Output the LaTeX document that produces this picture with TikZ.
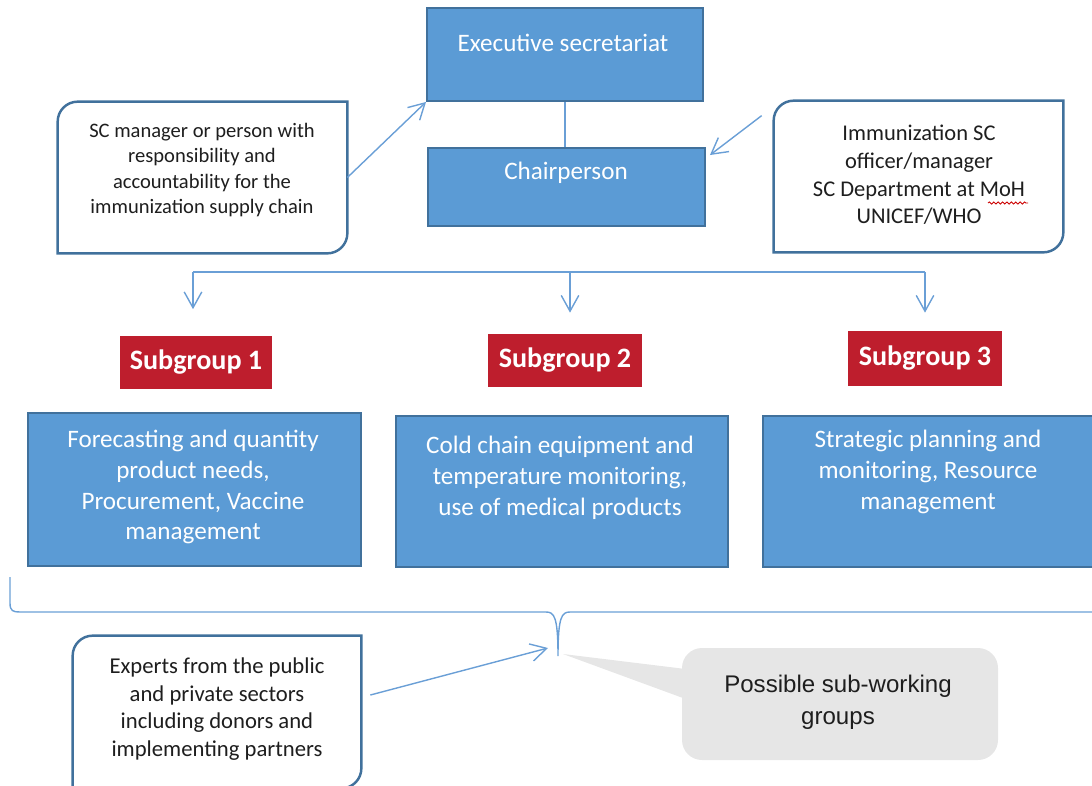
\documentclass[tikz,border=0pt]{standalone}
\usepackage{fontspec}
\setmainfont{Carlito}
\newfontfamily\arialfont{Liberation Sans}
\usetikzlibrary{positioning}
\usetikzlibrary{calc}
\usetikzlibrary{arrows.meta}
\usetikzlibrary{decorations.pathmorphing}
\definecolor{boxblue}{HTML}{5B9BD5}
\definecolor{boxedge}{HTML}{41719C}
\definecolor{subred}{HTML}{BE1E2D}
\definecolor{linkblue}{HTML}{6A9FD6}
\definecolor{notegray}{HTML}{E6E6E6}
\definecolor{notetext}{HTML}{1E1E1E}
\newcommand{\pxl}{0.02cm}
\tikzset{boxsize/.style 2 args={minimum width=#1*\pxl,minimum height=#2*\pxl}}
\tikzstyle{bluebox}=[draw=boxedge,fill=boxblue,line width=1.1pt,inner sep=0]
\tikzstyle{redbox}=[fill=subred,inner sep=0,text=white,font=\fontsize{16}{19}\selectfont\bfseries]
\tikzstyle{bluetext}=[text=white,align=center,inner sep=0,font=\fontsize{14.3}{17.6}\selectfont]
\tikzstyle{notebox}=[inner sep=0]
\tikzstyle{notetxt}=[text=notetext,align=center,inner sep=0,font=\fontsize{11.7}{14.3}\selectfont]
\tikzstyle{link}=[draw=linkblue,line width=0.8pt]
\tikzstyle{linkarrow}=[link,-{Straight Barb[length=9pt,width=10pt]}]

\begin{document}
\begin{tikzpicture}[x=\pxl,y=\pxl]
\newcommand{\cornr}{20}
% callout frame, round top left and bottom right
\newcommand{\noteframe}[1]{%
  \draw[draw=boxedge,fill=white,line width=1.4pt] (#1.south west)
    -- ($(#1.north west)+(0,-\cornr)$) arc[start angle=180,end angle=90,radius=\cornr*\pxl]
    -- (#1.north east)
    -- ($(#1.south east)+(0,\cornr)$) arc[start angle=0,end angle=-90,radius=\cornr*\pxl]
    -- cycle;}

\useasboundingbox (0,0) rectangle (1092,-785);

% top of the chart
\node (exec) [bluebox,boxsize={276}{93}] at (565,-54.5) {};
\node (chair) [bluebox,boxsize={277}{78}] at (566.5,-187) {};
\node (exectxt) [bluetext] at (563,-43) {Executive secretariat};
\node (chairtxt) [bluetext] at (566,-173) {Chairperson};
\draw[link] (exec.south) -- (exec.south |- chair.north);

% side notes
\node (lnote) [notebox,boxsize={289}{151}] at (202.5,-177.5) {};
\node (rnote) [notebox,boxsize={289}{151}] at (918.5,-176.5) {};
\noteframe{lnote}
\noteframe{rnote}
\node (lnotetxt) [notetxt] at (202,-170) {SC manager or person with\\responsibility and\\accountability for the\\immunization supply chain};
\node (rnotetxt) [notetxt,font=\fontsize{12.8}{15.8}\selectfont] at (919,-175) {Immunization SC\\officer/manager\\SC Department at MoH\\UNICEF/WHO};
\draw[red!80!black,line width=0.5pt,decorate,decoration={snake,amplitude=0.6pt,segment length=2.5pt}] (988,-203) -- (1028,-203);

\draw[linkarrow] (lnote.east) -- (exec.south west);
\draw[linkarrow] ($(rnote.north west)+(-12,-15)$) -- ($(chair.north east)+(4,-8)$);

% branches to the subgroups
\coordinate (barl) at (193,-272);
\coordinate (barm) at (570,-272);
\coordinate (barr) at (925,-272);
\node (sg1) [redbox,boxsize={152}{53}] at (196,-362) {Subgroup 1};
\node (sg2) [redbox,boxsize={154}{53}] at (565,-360.5) {Subgroup 2};
\node (sg3) [redbox,boxsize={154}{55}] at (925,-358.5) {Subgroup 3};
\draw[link] (barl) -- (barr);
\draw[linkarrow] (barl) -- ($(barl |- sg1.north)+(0,26)$);
\draw[linkarrow] (barm) -- ($(barm |- sg2.north)+(0,21)$);
\draw[linkarrow] (barr) -- ($(barr |- sg3.north)+(0,18)$);

\node (box1) [bluebox,boxsize={333}{153}] at (194.5,-489.5) {};
\node (box2) [bluebox,boxsize={332}{151}] at (562,-491.5) {};
\node (box3) [bluebox,boxsize={334}{151}] at (930,-491.5) {};
\node (box1txt) [bluetext] at (193,-487) {Forecasting and quantity\\product needs,\\Procurement, Vaccine\\management};
\node (box2txt) [bluetext] at (560,-478) {Cold chain equipment and\\temperature monitoring,\\use of medical products};
\node (box3txt) [bluetext] at (928,-472) {Strategic planning and\\monitoring, Resource\\management};

% brace under the subgroups
\coordinate (tip) at (558,-656);
\draw[link] (10,-577) -- (10,-603) .. controls (10,-611) and (13,-612) .. (20,-612)
  -- (546,-612) .. controls (554,-612) and (558,-616) .. (tip)
  .. controls (558,-616) and (562,-612) .. (570,-612) -- (1095,-612);

% bottom notes
\node (xnote) [notebox,boxsize={288}{152}] at (217,-712) {};
\noteframe{xnote}
\node (xnotetxt) [notetxt,font=\fontsize{12.9}{15.7}\selectfont] at (217,-709) {Experts from the public\\and private sectors\\including donors and\\implementing partners};
\coordinate (xend) at (548,-648);
\draw[linkarrow] ($(xnote.east)+(9,17)$) -- (xend);

\node (gnote) [fill=notegray,rounded corners=0.4cm,boxsize={316}{112}] at (840,-704) {};
\fill[notegray] ($(tip)+(5,2)$) -- ($(gnote.west)+(4,35)$) -- ($(gnote.west)+(4,5)$) -- cycle;
\node (gnotetxt) [text=notetext,align=center,inner sep=0,font=\arialfont\fontsize{13.7}{18}\selectfont] at (838,-702) {Possible sub-working\\groups};
\end{tikzpicture}
\end{document}
